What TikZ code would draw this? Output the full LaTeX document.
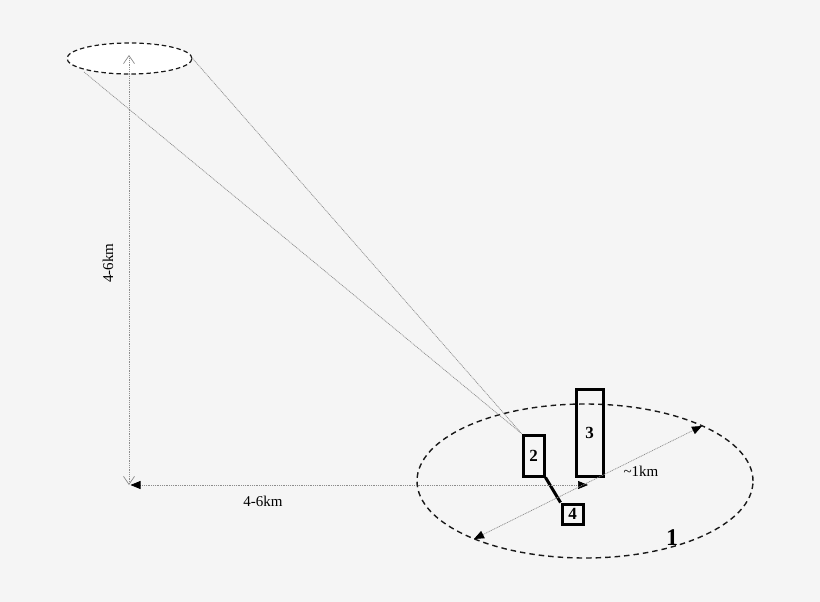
\documentclass[tikz,border=0pt]{standalone}
\usepackage{fontspec}
\setmainfont{Liberation Serif}
\usetikzlibrary{shapes.geometric,arrows.meta}
\definecolor{bg}{HTML}{F5F5F5}
\definecolor{dotgrey}{HTML}{8C8C8C}
\tikzset{
  zone/.style={ellipse, draw=black!90, line width=1.4pt, dash pattern=on 5.5pt off 4pt, inner sep=0pt},
  unitbox/.style={draw=black, line width=3pt, inner sep=0pt, font=\fontsize{17}{17}\selectfont\bfseries},
  sight/.style={draw=dotgrey, line width=0.7pt, dash pattern=on 1pt off 0.8pt},
  dimfill/.style={sight, {Triangle[length=10pt,width=8pt,fill=black,color=black]}-{Triangle[length=10pt,width=8pt,fill=black,color=black]}},
  dimopen/.style={sight, {Straight Barb[length=8pt,width=11pt,line width=0.7pt]}-{Straight Barb[length=8pt,width=11pt,line width=0.7pt]}},
  lbl/.style={font=\fontsize{15}{15}\selectfont, inner sep=0pt},
}
\begin{document}
\begin{tikzpicture}[x=1pt,y=-1pt]
\fill[bg] (0,0) rectangle (820,602);
\useasboundingbox (0,0) rectangle (820,602);
% big zone
\node[zone, minimum width=336pt, minimum height=154pt] (big) at (585,481) {};
% top ellipse
\node[zone, fill=white, line width=1.2pt, dash pattern=on 4.5pt off 3pt, minimum width=125pt, minimum height=31pt] (top) at (129.5,58.5) {};
% boxes
\node[unitbox, minimum width=27pt, minimum height=87pt] (b3) at (589.5,432.5) {3};
\node[unitbox, minimum width=21pt, minimum height=41pt] (b2) at (533.5,455.5) {2};
\node[unitbox, minimum width=21pt, minimum height=20pt] (b4) at (572.5,514) {4};
\draw[line width=3pt] (b2.south east) -- (b4.north west);
% sight lines
\coordinate (tl) at (84,72);
\draw[sight] (tl) -- (b2.north west);
\draw[sight] (top.east) -- (b2.north west);
% dimensions
\coordinate (o) at (129,485);
\coordinate (up) at (129,55);
\coordinate (c) at (588,485);
\coordinate (d1) at (474,539);
\coordinate (d2) at (702,426);
\draw[dimopen] (o) -- (up);
\draw[dimfill] (130.5,485) -- (c);
\draw[dimfill] (d1) -- (d2);
% labels
\node[lbl, rotate=90] (lv) at (108,263) {4-6km};
\node[lbl] (lh) at (263,501) {4-6km};
\node[lbl] (lk) at (641,471) {\textasciitilde1km};
\node[font=\fontsize{24}{24}\selectfont\bfseries, inner sep=0pt] (l1) at (672,538) {1};
\end{tikzpicture}
\end{document}
